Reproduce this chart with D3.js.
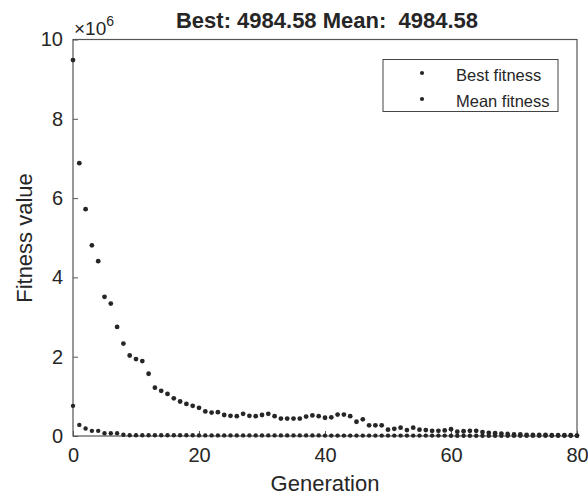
<!DOCTYPE html>
<html>
<head>
<meta charset="utf-8">
<script src="https://cdn.jsdelivr.net/npm/d3@7"></script>
<style>
  body { margin: 0; background: #fff; }
  svg { display: block; font-family: "Liberation Sans", Arial, sans-serif; }
</style>
</head>
<body>
<svg id="chart" width="588" height="500"></svg>
<script>
// valeurs en unités de 10^6
const generations = d3.range(0, 81);
const meanFitness = [
  9.48, 6.88, 5.72, 4.81, 4.41, 3.51, 3.34, 2.75, 2.33, 2.03,
  1.94, 1.89, 1.57, 1.22, 1.14, 1.06, 0.95, 0.87, 0.81, 0.76,
  0.71, 0.62, 0.59, 0.60, 0.53, 0.51, 0.50, 0.56, 0.51, 0.50,
  0.53, 0.56, 0.50, 0.44, 0.44, 0.44, 0.44, 0.49, 0.52, 0.50,
  0.46, 0.47, 0.54, 0.54, 0.50, 0.36, 0.42, 0.27, 0.27, 0.27,
  0.16, 0.18, 0.21, 0.15, 0.21, 0.16, 0.15, 0.13, 0.13, 0.14,
  0.17, 0.11, 0.12, 0.13, 0.13, 0.10, 0.08, 0.07, 0.06, 0.05,
  0.04, 0.04, 0.03, 0.03, 0.03, 0.03, 0.02, 0.02, 0.02, 0.02,
  0.01
];
const bestFitness = [
  0.76, 0.28, 0.19, 0.13, 0.13, 0.07, 0.07, 0.07, 0.03, 0.02,
  0.02, 0.02, 0.02, 0.02, 0.02, 0.02, 0.02, 0.02, 0.02, 0.02,
  0.015, 0.015, 0.015, 0.015, 0.015, 0.015, 0.015, 0.015, 0.015, 0.015,
  0.015, 0.015, 0.015, 0.015, 0.015, 0.015, 0.015, 0.015, 0.015, 0.015,
  0.01, 0.01, 0.01, 0.01, 0.01, 0.01, 0.01, 0.01, 0.01, 0.01,
  0.01, 0.01, 0.01, 0.01, 0.01, 0.01, 0.01, 0.01, 0.01, 0.01,
  0.008, 0.008, 0.008, 0.008, 0.008, 0.008, 0.008, 0.008, 0.008, 0.008,
  0.005, 0.005, 0.005, 0.005, 0.005, 0.005, 0.005, 0.005, 0.005, 0.005,
  0.005
];
const xTicks = [0, 20, 40, 60, 80];
const yTicks = [0, 2, 4, 6, 8, 10];
const legendLabels = ["Best fitness", "Mean fitness"];
const titleText = "Best: 4984.58 Mean:  4984.58";

const plot = { left: 73, right: 577, top: 39.5, bottom: 436 };
const ink = "#262626";
const axisCol = "#555";

const svg = d3.select("#chart");

const x = d3.scaleLinear().domain([0, 80]).range([plot.left, plot.right]);
const y = d3.scaleLinear().domain([0, 10]).range([plot.bottom, plot.top]);

// axes
const gx = svg.append("g")
  .attr("transform", `translate(0,${plot.bottom})`)
  .call(d3.axisBottom(x).tickValues(xTicks).tickSizeInner(-5).tickSizeOuter(0).tickPadding(12));
const gy = svg.append("g")
  .attr("transform", `translate(${plot.left},0)`)
  .call(d3.axisLeft(y).tickValues(yTicks).tickSizeInner(-5).tickSizeOuter(0).tickPadding(10));

[gx, gy].forEach(g => {
  g.select(".domain").remove();
  g.selectAll(".tick line").attr("stroke", axisCol);
  g.selectAll(".tick text").attr("fill", ink).style("font-size", "20px").style("font-family", "Liberation Sans, Arial, sans-serif");
});

// cadre
svg.append("rect")
  .attr("x", plot.left).attr("y", plot.top)
  .attr("width", plot.right - plot.left).attr("height", plot.bottom - plot.top)
  .attr("fill", "none").attr("stroke", axisCol).attr("stroke-width", 1.2);

// points
svg.append("g").selectAll("circle")
  .data(generations)
  .join("circle")
  .attr("cx", d => x(d))
  .attr("cy", d => y(meanFitness[d]))
  .attr("r", 2.4)
  .attr("fill", ink);

svg.append("g").selectAll("circle")
  .data(generations)
  .join("circle")
  .attr("cx", d => x(d))
  .attr("cy", d => y(bestFitness[d]))
  .attr("r", 2.2)
  .attr("fill", ink);

// exposant
const exp = svg.append("text")
  .attr("x", 74).attr("y", 35)
  .attr("fill", ink).style("font-size", "19px");
exp.append("tspan").text("×10");
exp.append("tspan").attr("dy", -9).style("font-size", "14px").text("6");

// titre
svg.append("text")
  .attr("x", 327).attr("y", 28)
  .attr("text-anchor", "middle")
  .attr("fill", ink)
  .style("font-size", "22px").style("font-weight", "bold")
  .style("white-space", "pre")
  .text(titleText);

// libellés des axes
svg.append("text")
  .attr("x", (plot.left + plot.right) / 2).attr("y", 491)
  .attr("text-anchor", "middle").attr("fill", ink)
  .style("font-size", "22px")
  .text("Generation");

svg.append("text")
  .attr("transform", `translate(32,238) rotate(-90)`)
  .attr("text-anchor", "middle").attr("fill", ink)
  .style("font-size", "22px")
  .text("Fitness value");

// légende
const legend = svg.append("g");
legend.append("rect")
  .attr("x", 383).attr("y", 59.5).attr("width", 175).attr("height", 52)
  .attr("fill", "#fff").attr("stroke", "#444").attr("stroke-width", 1);
legendLabels.forEach((lab, i) => {
  const cy = 75 + i * 26;
  legend.append("circle").attr("cx", 422).attr("cy", cy - 2).attr("r", 2.1).attr("fill", ink);
  legend.append("text").attr("x", 456).attr("y", cy + 6)
    .attr("fill", ink).style("font-size", "16.5px").text(lab);
});
</script>
</body>
</html>
